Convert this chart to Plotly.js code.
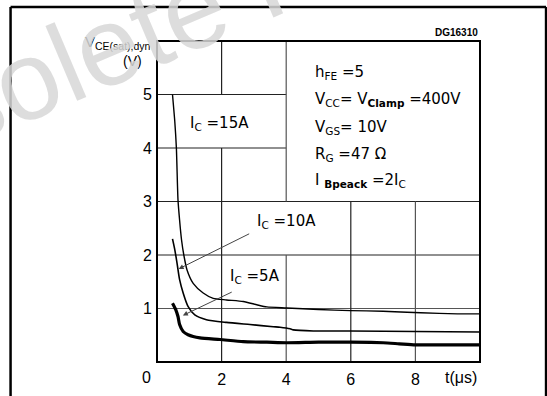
<!DOCTYPE html>
<html>
<head>
<meta charset="utf-8">
<script src="https://cdn.plot.ly/plotly-3.0.1.min.js"></script>
<style>html,body{margin:0;padding:0;background:#fff;}#chart{width:547px;height:396px;}</style>
</head>
<body>
<div id="chart"></div>
<script>
// ---- data ----
const t15 = [0.48, 0.55, 0.60, 0.65, 0.70, 0.76, 0.83, 0.93, 1.12, 1.43, 1.74, 2.15, 2.67, 3.09, 3.40, 4.02, 5.00, 5.98, 7.00, 7.74, 8.16, 9.30, 10.0];
const v15 = [5.00, 4.50, 4.00, 3.03, 2.65, 2.28, 2.00, 1.72, 1.47, 1.29, 1.19, 1.16, 1.13, 1.07, 1.03, 1.01, 0.98, 0.96, 0.95, 0.93, 0.92, 0.90, 0.90];

const t10 = [0.48, 0.55, 0.62, 0.70, 0.81, 0.96, 1.17, 1.53, 2.15, 2.88, 3.60, 3.81, 4.12, 4.22, 4.84, 6.00, 8.00, 10.0];
const v10 = [2.30, 2.10, 1.85, 1.54, 1.29, 1.04, 0.88, 0.79, 0.74, 0.70, 0.66, 0.65, 0.62, 0.60, 0.58, 0.58, 0.57, 0.56];

const t5 = [0.48, 0.58, 0.65, 0.70, 0.81, 0.96, 1.33, 1.95, 2.67, 3.40, 4.02, 5.00, 6.00, 7.00, 7.50, 8.00, 9.00, 10.0];
const v5 = [1.10, 0.98, 0.85, 0.70, 0.57, 0.51, 0.45, 0.42, 0.38, 0.37, 0.36, 0.37, 0.37, 0.36, 0.34, 0.32, 0.32, 0.32];

const xTicks = [2, 4, 6, 8];
const yTicks = [1, 2, 3, 4, 5];

const curveLabels = ['I<sub>C</sub> =15A', 'I<sub>C</sub> =10A', 'I<sub>C</sub> =5A'];
const labelX = [1.95, 4.0, 3.04];
const labelY = [4.46, 2.62, 1.60];
// arrows: [tail x, tail y] -> [head x, head y]
const arrowTail = [null, [2.90, 2.41], [2.36, 1.32]];
const arrowHead = [null, [0.67, 1.74], [0.80, 0.87]];

const condLines = [
  'h<sub>FE</sub> =5',
  'V<sub>CC</sub>= V<sub><b>Clamp</b></sub> =400V',
  'V<sub>GS</sub>= 10V',
  'R<sub>G</sub> =47 Ω',
  'I <sub><b>Bpeack</b></sub> =2I<sub>C</sub>'
];
const condY = [5.42, 4.90, 4.38, 3.88, 3.40];

// ---- figure ----
const FONT = 'Liberation Sans, Arial, sans-serif';
const LFONT = 'DejaVu Sans, Liberation Sans, sans-serif';
const traces = [
  {x: t15, y: v15, mode: 'lines', line: {color: '#000', width: 1.4, shape: 'spline', smoothing: 0.6}, hoverinfo: 'skip'},
  {x: t10, y: v10, mode: 'lines', line: {color: '#000', width: 1.6, shape: 'spline', smoothing: 0.6}, hoverinfo: 'skip'},
  {x: t5, y: v5, mode: 'lines', line: {color: '#000', width: 3.2, shape: 'spline', smoothing: 0.6}, hoverinfo: 'skip'}
];

const shapes = [];
function gl(x0, y0, x1, y1, c) {
  shapes.push({type: 'line', xref: 'x', yref: 'y', x0: x0, y0: y0, x1: x1, y1: y1, layer: 'below', line: {color: c, width: 1.2}});
}
// horizontal grid (condition box occupies x 4..10, y 3..6)
gl(0, 5, 4, 5, '#222');
gl(0, 4, 4, 4, '#222');
gl(0, 3, 10, 3, '#222');
gl(0, 2, 10, 2, '#222');
gl(0, 1, 10, 1, '#555');
// vertical grid
gl(2, 0, 2, 4, '#222'); gl(2, 5, 2, 6, '#222');
gl(4, 0, 4, 2, '#555'); gl(4, 3, 4, 6, '#555');
gl(6, 0, 6, 3, '#222');
gl(8, 0, 8, 3, '#555');
// plot border
shapes.push({type: 'rect', xref: 'paper', yref: 'paper', x0: 0, y0: 0, x1: 1, y1: 1, layer: 'above', line: {color: '#000', width: 2}});
// outer frame of the figure
const L = 157.3, W = 322.7, B = 362.3, H = 321.3;
function px(x) { return (x - L) / W; }
function py(y) { return (B - y) / H; }
shapes.push({type: 'line', xref: 'paper', yref: 'paper', x0: px(11), y0: py(7), x1: px(546), y1: py(7), line: {color: '#000', width: 2.5}});
shapes.push({type: 'line', xref: 'paper', yref: 'paper', x0: px(11), y0: py(7), x1: px(11), y1: py(400), line: {color: '#000', width: 2.5}});
shapes.push({type: 'line', xref: 'paper', yref: 'paper', x0: px(546), y0: py(7), x1: px(546), y1: py(400), line: {color: '#000', width: 2.5}});

const ann = [];
for (let i = 0; i < curveLabels.length; i++) {
  ann.push({x: labelX[i], y: labelY[i], xref: 'x', yref: 'y', xanchor: 'center', yanchor: 'middle', text: curveLabels[i], showarrow: false, bgcolor: '#fff',
    font: {family: LFONT, size: 15, color: '#000'}});
  if (arrowTail[i]) {
    ann.push({x: arrowHead[i][0], y: arrowHead[i][1], ax: arrowTail[i][0], ay: arrowTail[i][1], xref: 'x', yref: 'y', axref: 'x', ayref: 'y',
      text: '', showarrow: true, arrowhead: 2, arrowsize: 1, arrowwidth: 1, arrowcolor: '#444', standoff: 0});
  }
}
for (let i = 0; i < condLines.length; i++) {
  ann.push({x: 4.84, y: condY[i], xref: 'x', yref: 'y', xanchor: 'left', yanchor: 'middle', text: condLines[i], showarrow: false,
    font: {family: LFONT, size: 15, color: '#000'}});
}
function pann(x, y, text, size, xa, extra) {
  const a = {x: px(x), y: py(y), xref: 'paper', yref: 'paper', xanchor: xa || 'center', yanchor: 'middle', text: text, showarrow: false,
    font: {family: FONT, size: size, color: '#000'}};
  return Object.assign(a, extra || {});
}
ann.push(pann(480, 32, '<b>DG16310</b>', 10, 'right'));
ann.push(pann(153, 43, 'V<sub>CE(sat),dyn</sub>', 15, 'right'));
ann.push(pann(133, 61, '(V)', 14));
ann.push(pann(147, 378, '0', 16));
ann.push(pann(461, 378, 't(μs)', 16));
// watermark on top
ann.push({x: px(267), y: py(-22), xref: 'paper', yref: 'paper', xanchor: 'center', yanchor: 'middle', text: 'Obsolete Product(s)', showarrow: false, textangle: -23,
  font: {family: FONT, size: 112, color: 'rgba(215,215,215,0.85)'}});

const layout = {
  width: 547, height: 396,
  margin: {l: 157, r: 67, t: 41, b: 34, pad: 0},
  paper_bgcolor: '#fff', plot_bgcolor: '#fff',
  showlegend: false,
  xaxis: {range: [0, 10], tickvals: xTicks, ticktext: xTicks.map(String), showgrid: false, zeroline: false, showline: false,
    ticks: '', ticklabelstandoff: 6, tickfont: {family: FONT, size: 16, color: '#000'}, fixedrange: true},
  yaxis: {range: [0, 6], tickvals: yTicks, ticktext: yTicks.map(String), showgrid: false, zeroline: false, showline: false,
    ticks: '', ticklabelstandoff: 4, tickfont: {family: FONT, size: 16, color: '#000'}, fixedrange: true},
  shapes: shapes,
  annotations: ann
};
Plotly.newPlot('chart', traces, layout, {staticPlot: true, displayModeBar: false});
</script>
</body>
</html>
